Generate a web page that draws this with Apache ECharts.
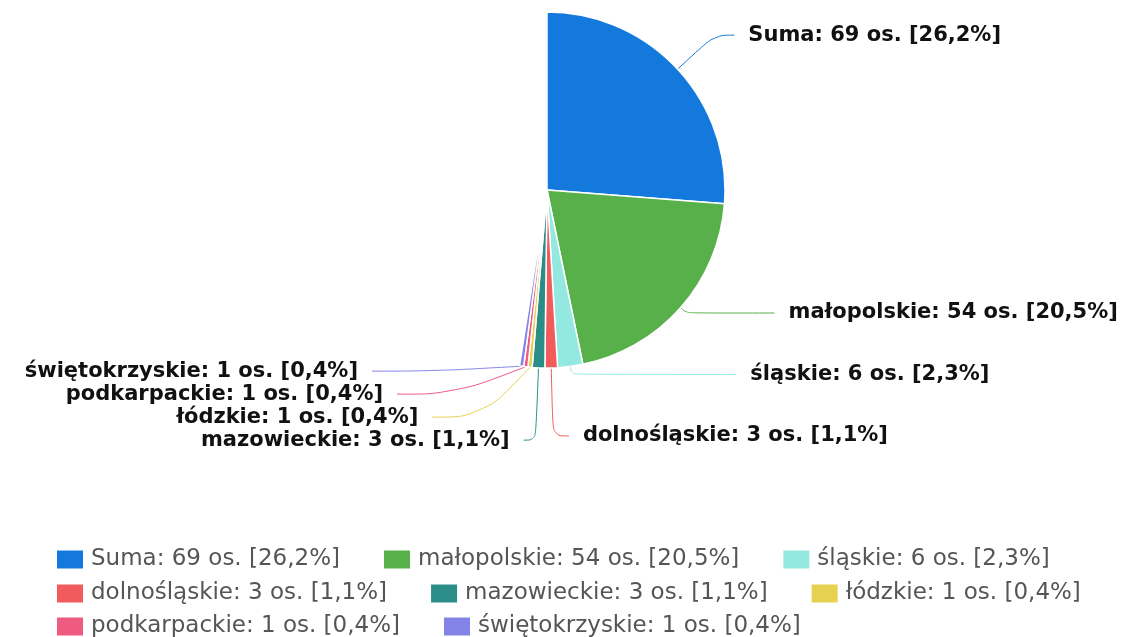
<!DOCTYPE html>
<html>
<head>
<meta charset="utf-8">
<script src="https://cdn.jsdelivr.net/npm/echarts@6/dist/echarts.min.js"></script>
<style>
html, body { margin: 0; padding: 0; background: #fff; }
#chart { width: 1144px; height: 637px; }
</style>
</head>
<body>
<div id="chart"></div>
<script>
// values
var regions = ['Suma', 'małopolskie', 'śląskie', 'dolnośląskie', 'mazowieckie', 'łódzkie', 'podkarpackie', 'świętokrzyskie'];
var counts = [69, 54, 6, 3, 3, 1, 1, 1];
var percents = ['26,2', '20,5', '2,3', '1,1', '1,1', '0,4', '0,4', '0,4'];
var colors = ['#1479dd', '#58b04a', '#93e8e0', '#f25b5b', '#2a8d87', '#e7d150', '#ef5a80', '#8484e8'];
var total = 263; // percentages are relative to this total, rest of circle stays empty

// connector lengths [length, length2] per slice, so labels land roughly where the reference has them
var connectors = [[50, 20], [8, 88], [8, 165], [68, 16], [60, 12], [5, 50], [5, 57], [5, 62]];

var names = [];
var datas = [];
var used = 0;
for (var i = 0; i < regions.length; i++) {
    var name = regions[i] + ': ' + counts[i] + ' os. [' + percents[i] + '%]';
    names.push(name);
    used += counts[i];
    datas.push({
        name: name,
        value: counts[i],
        itemStyle: { color: colors[i] },
        labelLine: {
            length: connectors[i][0],
            length2: connectors[i][1],
            lineStyle: { color: colors[i] }
        }
    });
}
datas.push({
    name: 'rest',
    value: total - used,
    itemStyle: { color: 'transparent', borderWidth: 0 },
    label: { show: false },
    labelLine: { show: false },
    emphasis: { disabled: true },
    tooltip: { show: false }
});

// one legend per row, the reference wraps 3 / 3 / 2
function legendRow(items, top) {
    return {
        data: items,
        left: 50,
        top: top,
        itemWidth: 28,
        itemHeight: 20,
        itemGap: 42,
        icon: 'rect',
        textStyle: {
            fontFamily: 'DejaVu Sans',
            fontSize: 23,
            color: '#555',
            padding: [0, 0, 0, 2]
        }
    };
}

var myChart = echarts.init(document.getElementById('chart'));
var option = {
    animation: false,
    color: colors,
    legend: [
        legendRow(names.slice(0, 3), 543),
        legendRow(names.slice(3, 6), 577),
        legendRow(names.slice(6), 610)
    ],
    series: [
        {
            type: 'pie',
            center: [547, 190],
            radius: 178,
            startAngle: 90,
            clockwise: true,
            avoidLabelOverlap: true,
            data: datas,
            itemStyle: {
                borderColor: '#fff',
                borderWidth: 1.5
            },
            label: {
                show: true,
                formatter: '{b}',
                fontFamily: 'DejaVu Sans',
                fontWeight: 'bold',
                fontSize: 21,
                lineHeight: 18,
                color: '#111',
                distanceToLabelLine: 14
            },
            labelLine: {
                show: true,
                smooth: 0.4
            }
        }
    ]
};
myChart.setOption(option);
</script>
</body>
</html>
